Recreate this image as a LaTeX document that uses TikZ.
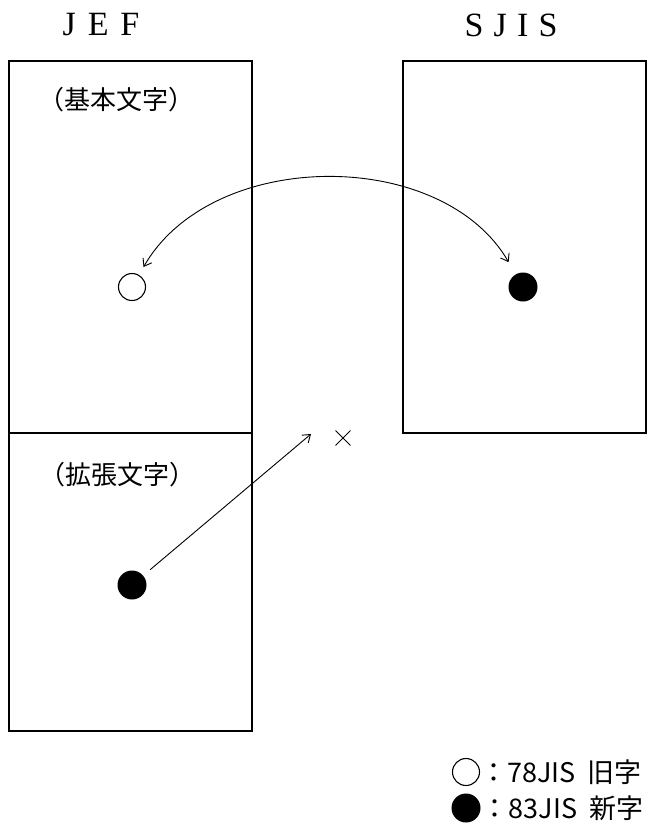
\documentclass[tikz,border=0pt]{standalone}
\usepackage{fontspec}
\setmainfont{Liberation Serif}
\newfontfamily\jpfont{Noto Sans CJK JP}
\usetikzlibrary{arrows.meta,shapes.misc}

\begin{document}
\begin{tikzpicture}[x=1pt,y=-1pt,
  box/.style={draw,line width=1.5pt,minimum width=243pt,inner sep=0pt},
  title/.style={font=\fontsize{34}{34}\selectfont},
  jptext/.style={font=\jpfont\fontsize{26}{26}\selectfont,inner sep=0pt},
  keytext/.style={font=\jpfont\fontsize{27}{27}\selectfont,inner sep=0pt,anchor=west},
  opendot/.style={circle,draw,line width=1.1pt,minimum size=27pt,inner sep=0pt},
  fulldot/.style={circle,fill,minimum size=29pt,inner sep=0pt},
  barb/.tip={Straight Barb[length=7pt,width=10pt]},
  link/.style={line width=0.9pt}]
\useasboundingbox (0,0) rectangle (663,825);
\node[title] (jef) at (101,25) {J\hspace{0.35em}E\hspace{0.35em}F};
\node[title] (sjis) at (511,25) {S\hspace{0.3em}J\hspace{0.3em}I\hspace{0.3em}S};
\node[box,minimum height=372pt] (basic) at (130.5,247) {};
\node[box,minimum height=298pt] (ext) at (130.5,582) {};
\node[box,minimum height=372pt] (sjisbox) at (524.5,247) {};
\node[jptext] (basiclbl) at (116.5,100) {（基本文字）};
\node[jptext] (extlbl) at (117.5,475) {（拡張文字）};
\node[opendot] (old) at (132,287) {};
\node[fulldot] (new) at (523,287) {};
\node[fulldot] (extdot) at (132,585) {};
\node[cross out,draw,line width=0.9pt,minimum size=14pt,inner sep=0pt] (cross) at (343,438) {};
\coordinate (xtip) at ([xshift=-32pt,yshift=4pt]cross.center);
\draw[link,barb-barb,shorten <=9pt,shorten >=14pt] (old) to[bend left=60] (new);
\draw[link,-barb,shorten <=9pt] (extdot) -- (xtip);
\node[opendot] (oldkey) at (466,772) {};
\node[fulldot] (newkey) at (466,808) {};
\node[keytext] (oldtxt) at (oldkey.east) {：78JIS\hspace{0.45em}旧字};
\node[keytext] (newtxt) at ([xshift=1pt]newkey.east) {：83JIS\hspace{0.45em}新字};
\end{tikzpicture}
\end{document}
